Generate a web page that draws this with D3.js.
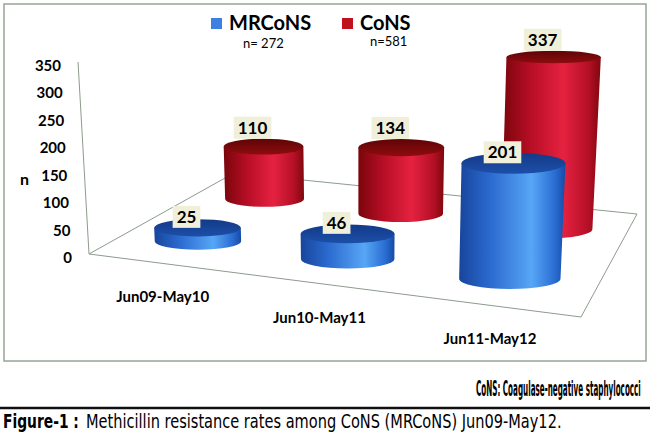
<!DOCTYPE html>
<html>
<head>
<meta charset="utf-8">
<script src="https://cdn.jsdelivr.net/npm/d3@7"></script>
<style>
    body { margin: 0; background: #fff; }
</style>
</head>
<body>
<div id="canvas"></div>
<script>
"use strict"

/* Data */
let categories = ["Jun09-May10", "Jun10-May11", "Jun11-May12"];
let seriesNames = ["MRCoNS", "CoNS"];
let seriesTotals = ["n= 272", "n=581"];
let mrconsValues = [25, 46, 201];
let consValues = [110, 134, 337];
let yTicks = [0, 50, 100, 150, 200, 250, 300, 350];

/* Configuration variables: drawing */
let svgWidth = 650;
let svgHeight = 443;
let font = "Lato, 'Open Sans', sans-serif";
let condensed = "'DejaVu Sans Condensed', 'DejaVu Sans', sans-serif";
let lineColor = "#8d9b8d";

let svg = d3.select("#canvas")
    .append("svg")
    .attr("width", svgWidth)
    .attr("height", svgHeight)
    .style("font-family", font);

svg.append("rect")
    .attr("width", svgWidth)
    .attr("height", svgHeight)
    .attr("fill", "#fff");

/* chart frame */
svg.append("rect")
    .attr("x", 4)
    .attr("y", 4)
    .attr("width", 642)
    .attr("height", 357)
    .attr("fill", "none")
    .attr("stroke", "#97a597")
    .attr("stroke-width", 1.5);

/* Floor of the 3D plot on screen: front-left, front-right, back-right, back-left */
let floorCorners = [[89, 254], [581, 317], [637, 214], [234, 173]];

// unit square -> quad (perspective), so depth comes out of the denominator
function squareToQuad(p) {
    let [x0, y0] = p[0], [x1, y1] = p[1], [x2, y2] = p[2], [x3, y3] = p[3];
    let dx1 = x1 - x2, dx2 = x3 - x2, dx3 = x0 - x1 + x2 - x3;
    let dy1 = y1 - y2, dy2 = y3 - y2, dy3 = y0 - y1 + y2 - y3;
    let den = dx1 * dy2 - dx2 * dy1;
    let g = (dx3 * dy2 - dx2 * dy3) / den;
    let h = (dx1 * dy3 - dx3 * dy1) / den;
    return {
        a: x1 - x0 + g * x1, b: x3 - x0 + h * x3, c: x0,
        d: y1 - y0 + g * y1, e: y3 - y0 + h * y3, f: y0,
        g: g, h: h
    };
}
let H = squareToQuad(floorCorners);
let vanishX = 360, vanishY = 5000; // vertical lines converge far below

let uScale = d3.scalePoint()
    .domain(categories)
    .range([0, 1])
    .padding(0.5);

let wScale = d3.scalePoint() // depth: MRCoNS in front, CoNS behind
    .domain(seriesNames)
    .range([0, 0.95])
    .padding(0.45);

let hScale = d3.scaleLinear() // pixel height at the front-left corner
    .domain([0, 350])
    .range([0, 192]);

function project(u, w, v) {
    let den = H.g * u + H.h * w + 1;
    let x = (H.a * u + H.b * w + H.c) / den;
    let y = (H.d * u + H.e * w + H.f) / den;
    let hp = hScale(v) / den;
    x += (x - vanishX) * hp / (vanishY - y);
    return [x, y - hp];
}

// how flat a horizontal circle looks at a given screen height
function flatness(y) {
    return Math.min(0.2, 0.13 + 0.00075 * (y - 54));
}

/* gradients */
let defs = svg.append("defs");
let sideStops = [
    [["0", "#17459c"], ["0.3", "#2c6bd0"], ["0.68", "#57a6f6"], ["0.9", "#2a6dd2"], ["1", "#174aa6"]],
    [["0", "#7a050b"], ["0.3", "#b80e26"], ["0.62", "#e52240"], ["0.88", "#b30f25"], ["1", "#80070e"]]
];
let topStops = [
    [["0", "#123a88"], ["1", "#1d4fa8"]],
    [["0", "#5e0406"], ["1", "#8e0c0e"]]
];
sideStops.forEach(function (stops, i) {
    defs.append("linearGradient")
        .attr("id", "side" + i)
        .selectAll("stop")
        .data(stops)
        .join("stop")
        .attr("offset", d => d[0])
        .attr("stop-color", d => d[1]);
});
topStops.forEach(function (stops, i) {
    defs.append("linearGradient")
        .attr("id", "top" + i)
        .attr("x1", 0).attr("y1", 0).attr("x2", 0).attr("y2", 1)
        .selectAll("stop")
        .data(stops)
        .join("stop")
        .attr("offset", d => d[0])
        .attr("stop-color", d => d[1]);
});

/* floor */
svg.append("path")
    .attr("d", d3.line()(floorCorners) + "Z")
    .attr("fill", "none")
    .attr("stroke", lineColor)
    .attr("stroke-width", 1);

/* value axis */
let axisBottom = project(0, 0, 0);
let axisTop = project(0, 0, yTicks[yTicks.length - 1]);
svg.append("line")
    .attr("x1", axisBottom[0]).attr("y1", axisBottom[1])
    .attr("x2", axisTop[0]).attr("y2", axisTop[1])
    .attr("stroke", lineColor)
    .attr("stroke-width", 1);

svg.selectAll(".ytick")
    .data(yTicks)
    .join("text")
    .attr("class", "ytick")
    .attr("x", d => project(0, 0, d)[0] - 17)
    .attr("y", d => project(0, 0, d)[1] + 3)
    .attr("text-anchor", "end")
    .attr("dominant-baseline", "central")
    .attr("font-size", 15)
    .attr("font-weight", "bold")
    .text(d => d);

svg.append("text")
    .attr("x", 20)
    .attr("y", 185)
    .attr("font-size", 16)
    .attr("font-weight", "bold")
    .text("n");

/* category labels in front of the floor */
svg.selectAll(".xlabel")
    .data(categories)
    .join("text")
    .attr("class", "xlabel")
    .attr("x", d => project(uScale(d), 0, 0)[0])
    .attr("y", d => project(uScale(d), 0, 0)[1] + 39)
    .attr("text-anchor", "middle")
    .attr("font-size", 15)
    .attr("font-weight", "bold")
    .text(d => d);

/* cylinders, back row first */
let seriesValues = [mrconsValues, consValues];
let bars = [];
for (let si = seriesNames.length - 1; si >= 0; si--) {
    categories.forEach(function (cat, ci) {
        let u = uScale(cat), w = wScale(seriesNames[si]), r = uScale.step() * 0.3;
        let v = seriesValues[si][ci];
        let b = project(u, w, 0), t = project(u, w, v);
        let rxB = (project(u + r, w, 0)[0] - project(u - r, w, 0)[0]) / 2;
        let rxT = (project(u + r, w, v)[0] - project(u - r, w, v)[0]) / 2;
        bars.push({
            si: si, value: v, b: b, t: t,
            rxB: rxB, rxT: rxT,
            ryB: rxB * flatness(b[1]), ryT: rxT * flatness(t[1])
        });
    });
}

let cyl = svg.selectAll(".cyl")
    .data(bars)
    .join("g")
    .attr("class", "cyl");

cyl.append("path")
    .attr("d", function (d) {
        return "M" + (d.b[0] - d.rxB) + "," + d.b[1] +
            "L" + (d.t[0] - d.rxT) + "," + d.t[1] +
            "L" + (d.t[0] + d.rxT) + "," + d.t[1] +
            "L" + (d.b[0] + d.rxB) + "," + d.b[1] +
            "A" + d.rxB + "," + d.ryB + " 0 0 1 " + (d.b[0] - d.rxB) + "," + d.b[1] + "Z";
    })
    .attr("fill", d => "url(#side" + d.si + ")");

cyl.append("ellipse")
    .attr("cx", d => d.t[0])
    .attr("cy", d => d.t[1])
    .attr("rx", d => d.rxT)
    .attr("ry", d => d.ryT)
    .attr("fill", d => "url(#top" + d.si + ")");

/* data labels */
let labels = svg.selectAll(".vlabel")
    .data(bars)
    .join("g")
    .attr("class", "vlabel")
    .attr("transform", d => "translate(" + (d.t[0] - 11) + "," + (d.t[1] - d.ryT * d.si) + ")");

labels.append("rect")
    .attr("fill", "#f0f0da");

labels.append("text")
    .attr("x", 0)
    .attr("y", -5)
    .attr("text-anchor", "middle")
    .attr("font-size", 17)
    .attr("font-weight", "bold")
    .text(d => d.value);

labels.each(function () {
    let g = d3.select(this);
    let tw = g.select("text").node().getComputedTextLength();
    g.select("rect")
        .attr("x", -tw / 2 - 4)
        .attr("y", -22)
        .attr("width", tw + 8)
        .attr("height", 22);
});

/* legend */
let legendColors = ["#3d80e4", "#c0121c"];
let legendX = [211, 342];
seriesNames.forEach(function (name, i) {
    svg.append("rect")
        .attr("x", legendX[i])
        .attr("y", 18)
        .attr("width", 11)
        .attr("height", 11)
        .attr("fill", legendColors[i]);
    svg.append("text")
        .attr("x", legendX[i] + 18)
        .attr("y", 30)
        .attr("font-size", 20)
        .attr("font-weight", "bold")
        .text(name);
});
svg.append("text")
    .attr("x", 243).attr("y", 48)
    .attr("font-size", 13)
    .text(seriesTotals[0]);
svg.append("text")
    .attr("x", 370).attr("y", 46)
    .attr("font-size", 13)
    .text(seriesTotals[1]);

/* abbreviation note and caption, squeezed to the narrow print face */
function narrowText(x, y, width, size, weight, str) {
    let t = svg.append("text")
        .attr("font-family", condensed)
        .attr("font-size", size)
        .attr("font-weight", weight)
        .text(str);
    let natural = t.node().getComputedTextLength();
    t.attr("transform", "translate(" + x + "," + y + ") scale(" + (width / natural) + ",1)");
    return t;
}

narrowText(476, 396, 165, 21, "bold", "CoNS: Coagulase-negative staphylococci");

svg.append("line")
    .attr("x1", 0).attr("x2", svgWidth)
    .attr("y1", 408).attr("y2", 408)
    .attr("stroke", "#111")
    .attr("stroke-width", 2.5);

narrowText(3, 428, 76, 20, "bold", "Figure-1 :");
narrowText(86, 428, 476, 19, "normal", "Methicillin resistance rates among CoNS (MRCoNS) Jun09-May12.");
</script>
</body>
</html>
